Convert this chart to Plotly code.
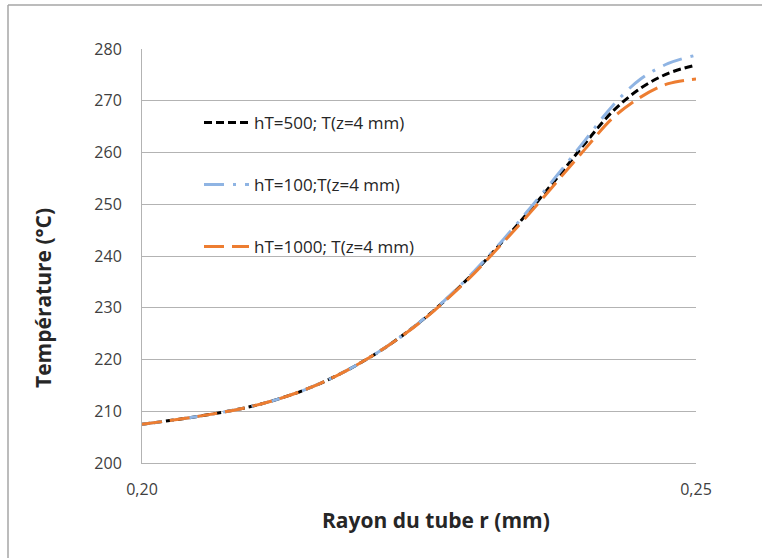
import plotly.graph_objects as go

# Data
r_mm = [0.2000, 0.2025, 0.2050, 0.2075, 0.2100, 0.2125, 0.2150, 0.2175, 0.2200, 0.2225,
        0.2250, 0.2275, 0.2300, 0.2325, 0.2350, 0.2375, 0.2400, 0.2425, 0.2450, 0.2475, 0.2500]
t_h500 = [207.5, 208.2, 209.0, 209.9, 211.0, 212.5, 214.4, 216.8, 219.7, 223.1,
          227.1, 231.7, 236.9, 242.7, 248.8, 255.2, 261.8, 268.0, 272.4, 275.3, 276.9]
t_h100 = [207.5, 208.2, 209.0, 209.9, 211.0, 212.5, 214.4, 216.8, 219.7, 223.1,
          227.1, 231.8, 237.1, 242.9, 249.2, 255.7, 262.4, 269.1, 274.2, 277.2, 278.8]
t_h1000 = [207.5, 208.2, 209.0, 209.9, 211.0, 212.5, 214.4, 216.8, 219.7, 223.1,
           227.0, 231.6, 236.7, 242.4, 248.3, 254.5, 260.7, 266.7, 270.7, 273.3, 274.2]

names = ["hT=500; T(z=4 mm)", "hT=100;T(z=4 mm)", "hT=1000; T(z=4 mm)"]
x_ticks = [0.20, 0.25]
y_ticks = [200, 210, 220, 230, 240, 250, 260, 270, 280]

W, H = 762, 558
L, R, T, B = 142, 696, 49, 463


def px(xp):
    return (xp - L) / (R - L)


def py(yp):
    return (B - yp) / (B - T)


fig = go.Figure()
fig.add_trace(go.Scatter(x=r_mm, y=t_h500, mode="lines", name=names[0], legend="legend",
                         showlegend=True,
                         line=dict(color="#000000", width=3, dash="8px,4px", shape="spline")))
fig.add_trace(go.Scatter(x=r_mm, y=t_h100, mode="lines", name=names[1], legend="legend2",
                         showlegend=True,
                         line=dict(color="#8FB4E3", width=3, dash="20px,9px,3px,9px", shape="spline")))
fig.add_trace(go.Scatter(x=r_mm, y=t_h1000, mode="lines", name=names[2], legend="legend3",
                         showlegend=True,
                         line=dict(color="#ED7D31", width=3, dash="20px,8px", shape="spline")))

font_main = "Open Sans, Noto Sans, sans-serif"
leg_common = dict(bgcolor="rgba(0,0,0,0)", borderwidth=0, xanchor="left", yanchor="middle",
                  font=dict(family=font_main, size=17, color="#262626"), itemwidth=45)

fig.update_layout(
    width=W, height=H,
    showlegend=True,
    margin=dict(l=L, r=W - R, t=T, b=H - B),
    paper_bgcolor="white", plot_bgcolor="white",
    separators=", ",
    legend=dict(x=px(199), y=py(123), **leg_common),
    legend2=dict(x=px(199), y=py(185), **leg_common),
    legend3=dict(x=px(199), y=py(247), **leg_common),
    xaxis=dict(range=[0.20, 0.25], tickvals=x_ticks, tickformat=".2f",
               showgrid=False, zeroline=False, showline=True, linecolor="#B3B3B3", linewidth=1,
               ticks="", ticklabelstandoff=12,
               tickfont=dict(family=font_main, size=16, color="#404040")),
    yaxis=dict(range=[200, 280], tickvals=y_ticks, showgrid=True, gridcolor="#B3B3B3", gridwidth=1,
               zeroline=False, showline=True, linecolor="#B3B3B3", linewidth=1,
               ticks="", ticklabelstandoff=16,
               tickfont=dict(family=font_main, size=16, color="#404040")),
    annotations=[
        dict(text="<b>Rayon du tube r (mm)</b>", xref="paper", yref="paper", x=px(436), y=py(520),
             xanchor="center", yanchor="middle", showarrow=False,
             font=dict(family=font_main, size=21, color="#262626")),
        dict(text="<b>Température (°C)</b>", xref="paper", yref="paper", x=px(43), y=py(298),
             xanchor="center", yanchor="middle", showarrow=False, textangle=-90,
             font=dict(family=font_main, size=21, color="#262626")),
    ],
    shapes=[
        dict(type="line", xref="paper", yref="paper", x0=px(8), x1=px(8), y0=py(5), y1=py(560),
             line=dict(color="#A6A6A6", width=1.5), layer="below"),
        dict(type="line", xref="paper", yref="paper", x0=px(8), x1=px(762), y0=py(5), y1=py(5),
             line=dict(color="#A6A6A6", width=1.5), layer="below"),
    ],
)

fig.write_html("out.html", config={"displayModeBar": False},
               post_script="document.body.style.margin='0';document.body.style.overflow='hidden';")
